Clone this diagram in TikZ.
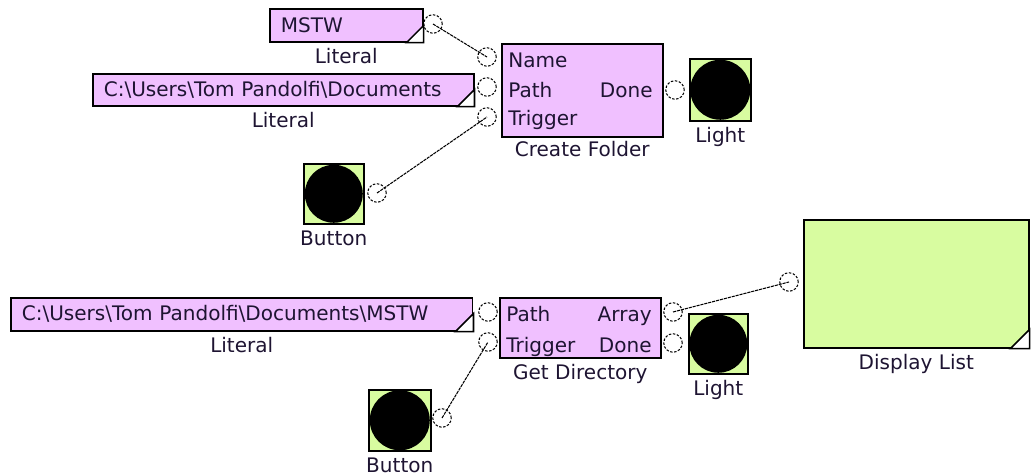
\documentclass[tikz,border=0pt]{standalone}
\usepackage{fontspec}
\setmainfont{DejaVu Sans}
\usepackage{tikz}
\usetikzlibrary{positioning, calc}
\definecolor{litpink}{RGB}{240,192,255}
\definecolor{lampgreen}{RGB}{216,252,160}
\definecolor{inktext}{RGB}{30,20,50}
\tikzstyle{literal} = [rectangle,
anchor=north west,
inner xsep=0.22cm, inner ysep=0pt,
align=left,
draw=black, line width=0.9pt, fill=litpink]
\tikzstyle{block} = [rectangle,
anchor=north west,
inner sep=0pt,
draw=black, line width=0.9pt, fill=litpink]
\tikzstyle{lampbox} = [rectangle,
anchor=north west,
inner sep=0pt,
draw=black, line width=0.9pt, fill=lampgreen]
\tikzstyle{lampdot} = [circle, inner sep=0pt, fill=black]
\tikzstyle{port} = [circle, draw=black, line width=0.6pt,
dash pattern=on 1.4pt off 0.9pt,
minimum size=0.37cm, inner sep=0pt]
\tikzstyle{pintext} = [inner sep=0pt, text height=8pt, text depth=2pt]
\tikzstyle{caption} = [inner sep=0pt, text height=8pt, text depth=2pt]
\tikzstyle{wire} = [line width=0.6pt, dash pattern=on 1.8pt off 0.5pt]
\tikzstyle{corner} = [draw=black, line width=0.9pt, fill=white]

\begin{document}
\begin{tikzpicture}[x=0.02cm, y=-0.02cm, node distance=3.5pt,
                    font=\fontsize{11.4}{13}\selectfont, text=inktext]
                \useasboundingbox (0,0) rectangle (1034,476);

                % create folder part
                \node (lit1) [literal, text width=2.62cm, minimum height=0.66cm] at (269,8) {MSTW};
                \node (lit2) [literal, text width=7.18cm, minimum height=0.64cm] at (92,73) {C:\textbackslash Users\textbackslash Tom Pandolfi\textbackslash Documents};
                \node (cf) [block, minimum width=3.22cm, minimum height=1.86cm] at (501,43) {};
                \node (light1) [lampbox, minimum width=1.22cm, minimum height=1.24cm] at (689,58) {};
                \node (btn1) [lampbox, minimum size=1.2cm] at (303,163) {};
                \node (light1dot) [lampdot, minimum size=1.2cm] at (light1.center) {};
                \node (btn1dot) [lampdot, minimum size=1.16cm] at (btn1.center) {};
                \draw [corner] (lit1.south east) -- ++(-17,0) -- ++(17,-17) -- cycle;
                \draw [corner] (lit2.south east) -- ++(-17,0) -- ++(17,-17) -- cycle;

                \node (cfname) [pintext, anchor=west] at (508,62) {Name};
                \node (cfpath) [pintext, anchor=west] at (508,92) {Path};
                \node (cftrig) [pintext, anchor=west] at (508,120) {Trigger};
                \node (cfdone) [pintext, anchor=east] at (653,92) {Done};

                \node (lit1cap) [caption, below=of lit1] {Literal};
                \node (lit2cap) [caption, below=of lit2] {Literal};
                \node (cfcap) [caption, below=2.5pt of cf] {Create Folder};
                \node (light1cap) [caption, below=of light1] {Light};
                \node (btn1cap) [caption, below=of btn1] {Button};

                \node (plit1) [port] at (433,24) {};
                \node (pname) [port] at (487,57) {};
                \node (ppath) [port] at (487,87) {};
                \node (ptrig) [port] at (487,117) {};
                \node (pdone) [port] at (675,90) {};
                \node (pbtn1) [port] at (377,193) {};

                \draw [wire] (plit1.center) -- (pname.center);
                \draw [wire] (pbtn1.center) -- (ptrig.center);

                % get directory part
                \node (lit3) [literal, text width=8.80cm, minimum height=0.66cm] at (10,297) {C:\textbackslash Users\textbackslash Tom Pandolfi\textbackslash Documents\textbackslash MSTW};
                \node (gd) [block, minimum width=3.22cm, minimum height=1.2cm] at (499,297) {};
                \node (light2) [lampbox, minimum width=1.18cm, minimum height=1.2cm] at (688,313) {};
                \node (btn2) [lampbox, minimum width=1.24cm, minimum height=1.22cm] at (368,389) {};
                \node (light2dot) [lampdot, minimum size=1.16cm] at (light2.center) {};
                \node (btn2dot) [lampdot, minimum size=1.2cm] at (btn2.center) {};
                \node (disp) [lampbox, minimum width=4.5cm, minimum height=2.56cm] at (803,219) {};
                \draw [corner] (lit3.south east) -- ++(-18,0) -- ++(18,-18) -- cycle;
                \draw [corner] (disp.south east) -- ++(-19,0) -- ++(19,-19) -- cycle;

                \node (gdpath) [pintext, anchor=west] at (506,316) {Path};
                \node (gdtrig) [pintext, anchor=west] at (506,347) {Trigger};
                \node (gdarray) [pintext, anchor=east] at (652,316) {Array};
                \node (gddone) [pintext, anchor=east] at (652,347) {Done};

                \node (lit3cap) [caption, below=of lit3] {Literal};
                \node (gdcap) [caption, below=of gd] {Get Directory};
                \node (light2cap) [caption, below=of light2] {Light};
                \node (btn2cap) [caption, below=of btn2] {Button};
                \node (dispcap) [caption, below=of disp] {Display List};

                \node (pgdpath) [port] at (488,312) {};
                \node (pgdtrig) [port] at (488,342) {};
                \node (parray) [port] at (673,312) {};
                \node (pdone2) [port] at (673,343) {};
                \node (pbtn2) [port] at (442,418) {};
                \node (pdisp) [port] at (789,282) {};

                \draw [wire] (pbtn2.center) -- (pgdtrig.center);
                \draw [wire] (parray.center) -- (pdisp.center);
            \end{tikzpicture}
\end{document}
